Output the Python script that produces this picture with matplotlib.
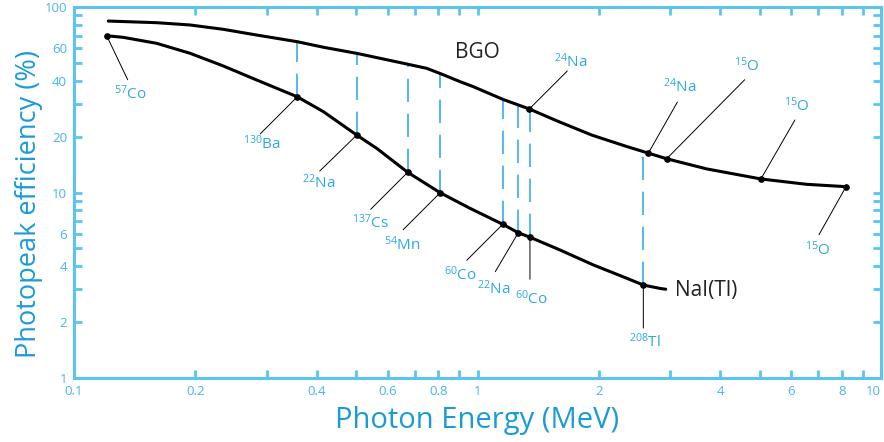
import numpy as np
import matplotlib
matplotlib.use("Agg")
import matplotlib.pyplot as plt
from matplotlib.ticker import FixedLocator, FixedFormatter, NullFormatter

plt.rcParams['font.family'] = ['Open Sans', 'DejaVu Sans']
plt.rcParams['mathtext.default'] = 'regular'

# NaI(Tl) curve (MeV, %)
nai_e = [0.1205, 0.1325, 0.1603, 0.1939, 0.2344, 0.2837, 0.3576, 0.4147, 0.502,
         0.5626, 0.6714, 0.808, 0.958, 1.155, 1.262, 1.349, 1.601, 1.936, 2.343,
         2.576, 2.834, 2.927]
nai_eff = [70.0, 68.6, 63.7, 56.3, 48.1, 40.4, 32.8, 27.3, 20.4,
           17.3, 12.85, 9.97, 8.22, 6.74, 6.07, 5.74, 4.90, 4.07, 3.45,
           3.17, 3.04, 3.01]

# BGO curve (MeV, %)
bgo_e = [0.1216, 0.1603, 0.1939, 0.2344, 0.2837, 0.3576, 0.4147, 0.503, 0.6676,
         0.7483, 0.808, 0.905, 0.976, 1.159, 1.344, 1.583, 1.919, 2.343, 2.651,
         2.943, 3.70, 5.04, 6.54, 8.19]
bgo_eff = [84.0, 82.3, 80.0, 75.8, 70.6, 65.0, 60.7, 56.2, 49.3,
           46.7, 43.8, 39.6, 37.2, 31.7, 28.2, 24.2, 20.4, 17.7, 16.3,
           15.2, 13.4, 11.83, 11.07, 10.75]

# measured sources on NaI(Tl)
nai_src = ['57Co', '130Ba', '22Na', '137Cs', '54Mn', '60Co', '22Na', '60Co', '208Tl']
nai_src_e = [0.1205, 0.3576, 0.502, 0.6714, 0.808, 1.155, 1.262, 1.349, 2.576]
nai_src_eff = [70.0, 32.8, 20.4, 12.85, 9.97, 6.74, 6.07, 5.74, 3.17]
nai_dashed = [False, True, True, True, True, True, True, True, True]

# measured sources on BGO
bgo_src = ['24Na', '24Na', '15O', '15O', '15O']
bgo_src_e = [1.344, 2.651, 2.943, 5.04, 8.19]
bgo_src_eff = [28.2, 16.3, 15.2, 11.83, 10.75]

# leader line end / label centre offsets, pixels from the marker
nai_line_off = [(21, -44), (-37, -37), (-37, -36), (-37, -37), (-37, -37),
                (-36, -36), (-23, -39), (0, -42), (0, -43)]
nai_lab_off = [(24, -58), (-35, -47), (-38, -48), (-37, -50), (-38, -52),
               (-42, -50), (-25, -56), (1, -61), (2, -57)]
bgo_line_off = [(38, 38), (29, 51), (78, 79), (34, 59), (-27, -48)]
bgo_lab_off = [(41, 47), (31, 66), (80, 93), (36, 73), (-28, -63)]

x_ticks = [0.1, 0.2, 0.4, 0.6, 0.8, 1, 2, 4, 6, 8, 10]
x_ticklabels = ['0.1', '0.2', '0.4', '0.6', '0.8', '1', '2', '4', '6', '8', '10']
y_ticks = [1, 2, 4, 6, 10, 20, 40, 60, 100]
y_ticklabels = ['1', '2', '4', '6', '10', '20', '40', '60', '100']

spine_c = '#5bc4f1'
tick_lab_c = '#45b6ea'
axlab_c = '#1a9bd7'
iso_c = '#2aa9e2'
dash_c = '#35ade6'


def iso_label(s):
    i = 0
    while s[i].isdigit():
        i += 1
    return '$^{%s}$%s' % (s[:i], s[i:])


fig = plt.figure(figsize=(8.84, 4.42), dpi=100)
ax = fig.add_axes([74 / 884, 64 / 442, 807 / 884, 371 / 442])
ax.set_xscale('log')
ax.set_yscale('log')
ax.set_xlim(0.1, 10)
ax.set_ylim(1, 100)

ax.plot(nai_e, nai_eff, color='black', lw=2.2, solid_capstyle='round',
        solid_joinstyle='round', zorder=3)
ax.plot(bgo_e, bgo_eff, color='black', lw=2.2, solid_capstyle='round',
        solid_joinstyle='round', zorder=3)

# dashed verticals from NaI points up to BGO curve
lbe = np.log10(bgo_e)
lbf = np.log10(bgo_eff)
for e, f, d in zip(nai_src_e, nai_src_eff, nai_dashed):
    if not d:
        continue
    top = 10 ** np.interp(np.log10(e), lbe, lbf)
    ax.plot([e, e], [f, top], color=dash_c, lw=1.2, dashes=(14, 7), zorder=2)

ax.plot(nai_src_e, nai_src_eff, 'o', color='black', ms=3.8, zorder=4)
ax.plot(bgo_src_e, bgo_src_eff, 'o', color='black', ms=3.8, zorder=4)


def label_points(names, es, fs, loffs, toffs):
    for n, e, f, lo, to in zip(names, es, fs, loffs, toffs):
        ax.annotate('', xy=(e, f), xytext=lo, textcoords='offset pixels',
                    arrowprops=dict(arrowstyle='-', color='black', lw=0.7,
                                    shrinkA=0, shrinkB=0))
        ax.annotate(iso_label(n), xy=(e, f), xytext=to, textcoords='offset pixels',
                    ha='center', va='center', color=iso_c, fontsize=11)


label_points(nai_src, nai_src_e, nai_src_eff, nai_line_off, nai_lab_off)
label_points(bgo_src, bgo_src_e, bgo_src_eff, bgo_line_off, bgo_lab_off)

ax.text(0.997, 57.2, 'BGO', color='#222222', fontsize=15, ha='center', va='center')
ax.text(3.68, 2.98, 'NaI(Tl)', color='#222222', fontsize=15, ha='center', va='center')

for s in ax.spines.values():
    s.set_color(spine_c)
    s.set_linewidth(2.2)

ax.xaxis.set_major_locator(FixedLocator(x_ticks))
ax.xaxis.set_major_formatter(FixedFormatter(x_ticklabels))
ax.xaxis.set_minor_formatter(NullFormatter())
ax.yaxis.set_major_locator(FixedLocator(y_ticks))
ax.yaxis.set_major_formatter(FixedFormatter(y_ticklabels))
ax.yaxis.set_minor_formatter(NullFormatter())
ax.tick_params(which='both', direction='in', length=6, width=2, color=spine_c,
               top=True, right=True, labelcolor=tick_lab_c, labelsize=9.5, pad=5)

fig.canvas.draw()
xt = ax.get_xticklabels()
xt[-1].set_ha('right')

ax.set_xlabel('Photon Energy (MeV)', color=axlab_c, fontsize=21, labelpad=6)
ax.set_ylabel('Photopeak efficiency (%)', color=axlab_c, fontsize=19.5, labelpad=0)
ax.yaxis.set_label_coords(-0.038, 0.47)

fig.savefig('out.png', dpi=100)
